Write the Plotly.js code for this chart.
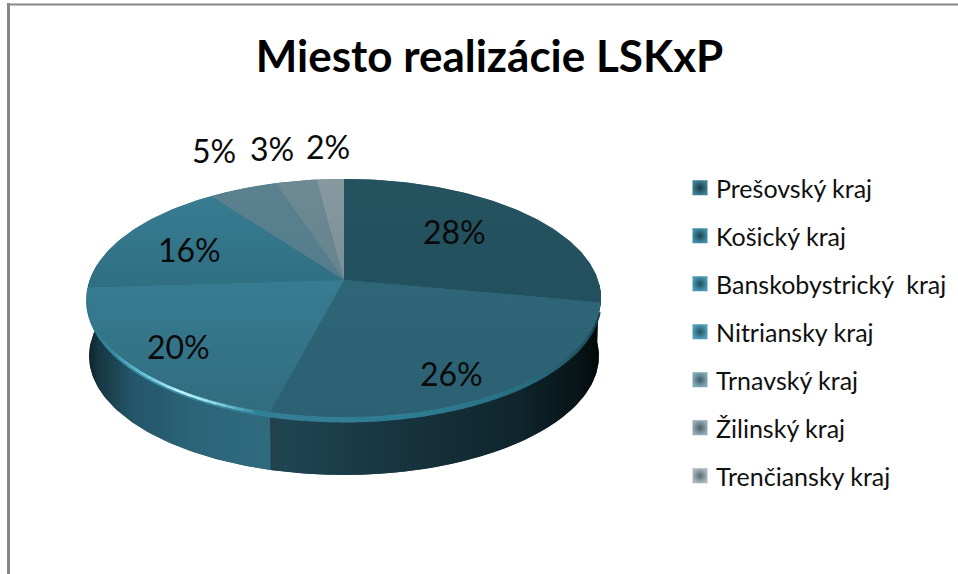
<!DOCTYPE html>
<html>
<head>
<meta charset="utf-8">
<script src="https://cdn.plot.ly/plotly-3.0.1.min.js"></script>
<style>html,body{margin:0;padding:0;background:#fff}</style>
</head>
<body>
<div id="chart" style="width:958px;height:574px"></div>
<script>
// ---- data ----
const regions = ['Prešovský kraj','Košický kraj','Banskobystrický  kraj','Nitriansky kraj','Trnavský kraj','Žilinský kraj','Trenčiansky kraj'];
const shares = [28,26,20,16,5,3,2];
const chartTitle = 'Miesto realizácie LSKxP';

// ---- styles ----
const faceTop    = ['#22505e','#2b6172','#326c7e','#2f6f82','#547c8b','#67838e','#7b8f98'];
const faceBottom = ['#24525f','#2e6577','#377c92','#387c91','#5b818f','#6d8993','#88989f'];
const swatchCore = ['#3d7f94','#3f8ca4','#4a9ab3','#4f9fb8','#7fa9b8','#93abb5','#a9b8be'];
const swatchEdge = ['#173a45','#1b4552','#1e4c5b','#205263','#3d5b67','#4a5f68','#5a6a71'];
const labelAnchors = [[454,231],[451,373],[178,346],[189,249],[214,150],[272,148],[328,146]];

// Perspective projection of the disc, in a pixel-sized axis space
const discTop    = {cx:344, cy:280, R:254, B:116.3, k:0.151};
const discRim    = {cx:344, cy:282.5, R:252, B:116.3, k:0.151};
const discBottom = {cx:344, cy:338, R:252, B:116.3, k:0.151};
function project(p, deg){
  const t = deg*Math.PI/180, X = Math.sin(t), Y = Math.cos(t)*-1, d = 1 - p.k*Y;
  return [p.cx + p.R*X/d, p.cy + p.B*Y/d];
}
function arc(p, a, b){
  const xs=[], ys=[], n=Math.max(2,Math.ceil(Math.abs(b-a)));
  for(let i=0;i<=n;i++){ const q=project(p, a+(b-a)*i/n); xs.push(q[0]); ys.push(q[1]); }
  return [xs,ys];
}
function wall(a,b,stops){
  const u=arc(discTop,a,b), l=arc(discBottom,b,a);
  return {type:'scatter',mode:'lines',x:u[0].concat(l[0]),y:u[1].concat(l[1]),fill:'toself',
    line:{width:0},fillgradient:{type:'horizontal',colorscale:stops},hoverinfo:'skip',showlegend:false};
}
function hex(c){ return [1,3,5].map(i=>parseInt(c.substr(i,2),16)); }
function mix(stops, a){
  for(let i=0;i<stops.length-1;i++){
    if(a<=stops[i+1][0]){
      const f=(a-stops[i][0])/(stops[i+1][0]-stops[i][0]), p=hex(stops[i][1]), q=hex(stops[i+1][1]);
      return 'rgb('+p.map((v,j)=>Math.round(v+(q[j]-v)*f)).join(',')+')';
    }
  }
  return stops[stops.length-1][1];
}
function rim(stops,width){
  const out=[], a0=stops[0][0], a1=stops[stops.length-1][0];
  for(let a=a0;a<a1;a+=2){
    const r=arc(discRim,a,a+2.3);
    out.push({type:'scatter',mode:'lines',x:r[0],y:r[1],line:{color:mix(stops,a+1),width:width},hoverinfo:'skip',showlegend:false});
  }
  return out;
}

const traces=[];
// backing for the side walls, so their join shows no pale seam
traces.push(wall(92,278,[[0,'#1f4450'],[1,'#1f4450']]));
// side walls
traces.push(wall(92,194.4,[[0,'#243f49'],[0.04,'#1f4552'],[0.35,'#183641'],[0.75,'#0f252c'],[0.93,'#081418'],[1,'#030808']]));
traces.push(wall(194.4,278,[[0,'#0c1f26'],[0.06,'#163641'],[0.25,'#24566a'],[0.6,'#2c6578'],[1,'#2f6a7e']]));

// bevel under the front edge of the top face
const rimBase=[[104,'#153640'],[118,'#1f5260'],[140,'#286c80'],[165,'#2e7c92'],[194,'#357f96'],[194.5,'#2f7f97'],[225,'#3e96ae'],[245,'#2f8098'],[262,'#2a6f86'],[274,'#245a6c']];
rim(rimBase,6).forEach(t=>traces.push(t));
const rimGlow=[[198,'#3d90a8'],[208,'#9fe2ee'],[214,'#c8f5fb'],[222,'#7fd0e0'],[236,'#3e96ae']];
rim(rimGlow,2.5).forEach(t=>traces.push(t));

// backing disc, so adjoining slices show no pale seam
const full=arc(discTop,0,360);
traces.push({type:'scatter',mode:'lines',x:full[0],y:full[1],fill:'toself',fillcolor:'#2f6a7e',line:{width:0},hoverinfo:'skip',showlegend:false});

// top faces, one per value
let cum=0;
shares.forEach((v,i)=>{
  const a=cum/100*360, b=(cum+v)/100*360; cum+=v;
  const e=arc(discTop,a,b);
  traces.push({type:'scatter',mode:'lines',x:[discTop.cx].concat(e[0]),y:[discTop.cy].concat(e[1]),fill:'toself',
    line:{width:0},fillgradient:{type:'vertical',colorscale:[[0,faceTop[i]],[1,faceBottom[i]]]},
    name:regions[i],legendgroup:regions[i],showlegend:false,hoverinfo:'text',text:regions[i]+': '+v+'%'});
});

// legend entries
regions.forEach((r,i)=>{
  traces.push({type:'scatter',mode:'markers',x:[null],y:[null],name:r,legendgroup:r,showlegend:true,hoverinfo:'skip',
    marker:{symbol:'square',size:15,color:swatchCore[i],gradient:{type:'radial',color:swatchEdge[i]},line:{width:0}}});
});

const layout={
  width:958,height:574,margin:{l:0,r:0,t:0,b:0},
  paper_bgcolor:'#fff',plot_bgcolor:'#fff',
  title:{text:'<b>'+chartTitle+'</b>',x:489.5/958,xanchor:'center',y:1-57/574,yref:'container',yanchor:'middle',
    font:{family:'Lato, Carlito, sans-serif',size:44,color:'#000'}},
  xaxis:{range:[0,958],visible:false,fixedrange:true},
  yaxis:{range:[574,0],visible:false,fixedrange:true},
  legend:{x:676/958,xanchor:'left',y:1-165/574,yanchor:'top',bgcolor:'rgba(0,0,0,0)',
    tracegroupgap:12.5,traceorder:'grouped',itemclick:false,itemdoubleclick:false,
    font:{family:'Lato, Carlito, sans-serif',size:25,color:'#111'}},
  annotations:shares.map((v,i)=>({xref:'x',yref:'y',x:labelAnchors[i][0],y:labelAnchors[i][1],text:v+'%',showarrow:false,
    font:{family:'Lato, Carlito, sans-serif',size:32,color:'#0a0a0a'}})),
  shapes:[
    {type:'line',xref:'x',yref:'y',x0:8.5,x1:8.5,y0:3,y1:574,line:{color:'#878787',width:3}},
    {type:'line',xref:'x',yref:'y',x0:7,x1:958,y0:4.5,y1:4.5,line:{color:'#878787',width:2}}
  ]
};
Plotly.newPlot('chart',traces,layout,{displayModeBar:false}).then(gd=>{
  gd.querySelectorAll('.legend .legendsymbols').forEach(n=>n.setAttribute('transform','translate(4,0)'));
});
</script>
</body>
</html>
